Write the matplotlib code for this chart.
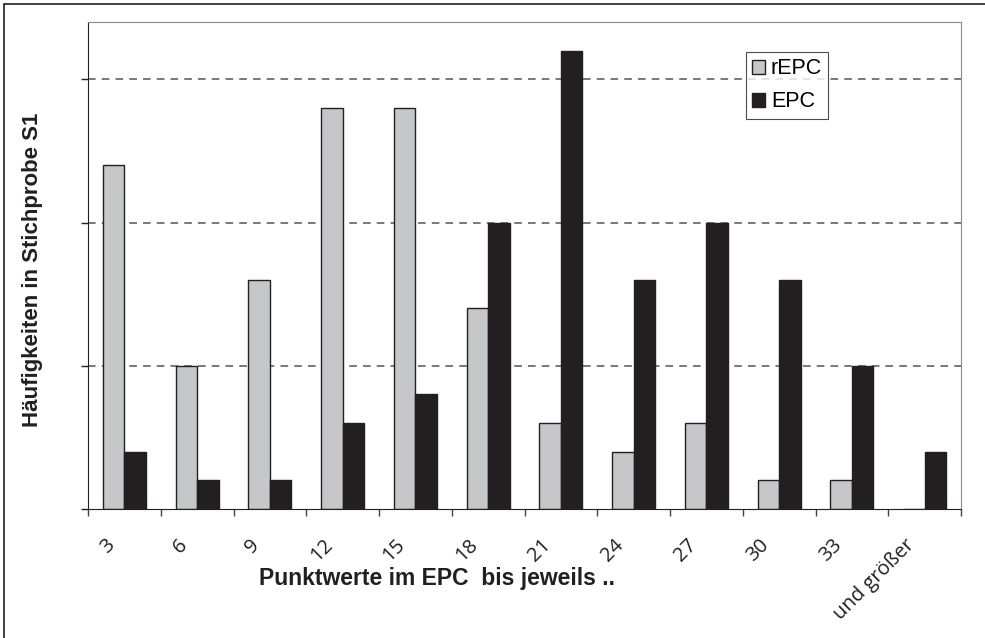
import matplotlib
matplotlib.use("Agg")
import matplotlib.pyplot as plt
import matplotlib.transforms as mtransforms
import numpy as np
from matplotlib.patches import Rectangle

plt.rcParams["font.family"] = ["Liberation Sans", "DejaVu Sans"]

# data
categories = ["3", "6", "9", "12", "15", "18", "21", "24", "27", "30", "33", "und größer"]
repc = [12, 5, 8, 14, 14, 7, 3, 2, 3, 1, 1, 0]
epc = [2, 1, 1, 3, 4, 10, 16, 8, 10, 8, 5, 2]

fig = plt.figure(figsize=(9.85, 6.38), dpi=100)
W, H = 985, 638
ax = fig.add_axes([88 / W, 1 - 509 / H, (961 - 88) / W, (509 - 22) / H])

x = np.arange(len(categories))
bw = 0.296
ax.bar(x - bw / 2, repc, bw, color="#c6c7c9", edgecolor="#231f20", linewidth=1.0, label="rEPC")
ax.bar(x + bw / 2, epc, bw, color="#231f20", edgecolor="#231f20", linewidth=1.0, label="EPC")

ax.set_xlim(-0.5, len(categories) - 0.5)
ax.set_ylim(0, 17)

# y axis: ticks without labels, dashed gridlines
ax.set_yticks([0, 5, 10, 15])
ax.set_yticklabels([])
ax.tick_params(axis="y", direction="out", length=5, width=1, color="#231f20")
for yv in [5, 10, 15]:
    ax.axhline(yv, color="#555555", linewidth=1.1, dashes=(5, 4), zorder=0)

# x axis: ticks on category boundaries, labels at centres
ax.set_xticks(x)
ax.set_xticklabels(categories, rotation=45, ha="right", va="top", family=["Open Sans", "DejaVu Sans"],
                   rotation_mode="anchor", fontsize=14.5, color="#231f20")
ax.tick_params(axis="x", which="major", length=0, pad=19)
shift = mtransforms.ScaledTranslation(-20 / 100, 0, fig.dpi_scale_trans)
for lbl in ax.get_xticklabels():
    lbl.set_transform(lbl.get_transform() + shift)
ax.set_xticks(np.arange(-0.5, len(categories)), minor=True)
ax.tick_params(axis="x", which="minor", direction="out", length=5, width=1, color="#444444")

for side in ["top", "right"]:
    ax.spines[side].set_color("#8a8a8a")
for side in ["left", "bottom"]:
    ax.spines[side].set_color("#231f20")

fig.text(437 / W, 1 - 578 / H, "Punktwerte im EPC  bis jeweils ..", ha="center", va="center",
         fontsize=16.5, fontweight="bold", color="#231f20")
fig.text(33 / W, 1 - 270 / H, "Häufigkeiten in Stichprobe S1", ha="center", va="center",
         rotation=90, fontsize=16, fontweight="bold", color="#231f20")

leg = ax.legend(loc="upper left", bbox_to_anchor=((746 - 88) / (961 - 88), 1 - (52 - 22) / (509 - 22)),
                fontsize=15.5, frameon=True, fancybox=False, handlelength=0.6, handleheight=0.6,
                handletextpad=0.25, borderpad=0.3, labelspacing=0.55, borderaxespad=0)
leg.get_frame().set_edgecolor("#231f20")
leg.get_frame().set_linewidth(0.8)

# outer border of the chart object
fig.patches.append(Rectangle((4 / W, -0.1), 1.2, 1 - 4 / H + 0.1, transform=fig.transFigure,
                             fill=False, edgecolor="#231f20", linewidth=1.2))

fig.savefig("out.png", dpi=100)
